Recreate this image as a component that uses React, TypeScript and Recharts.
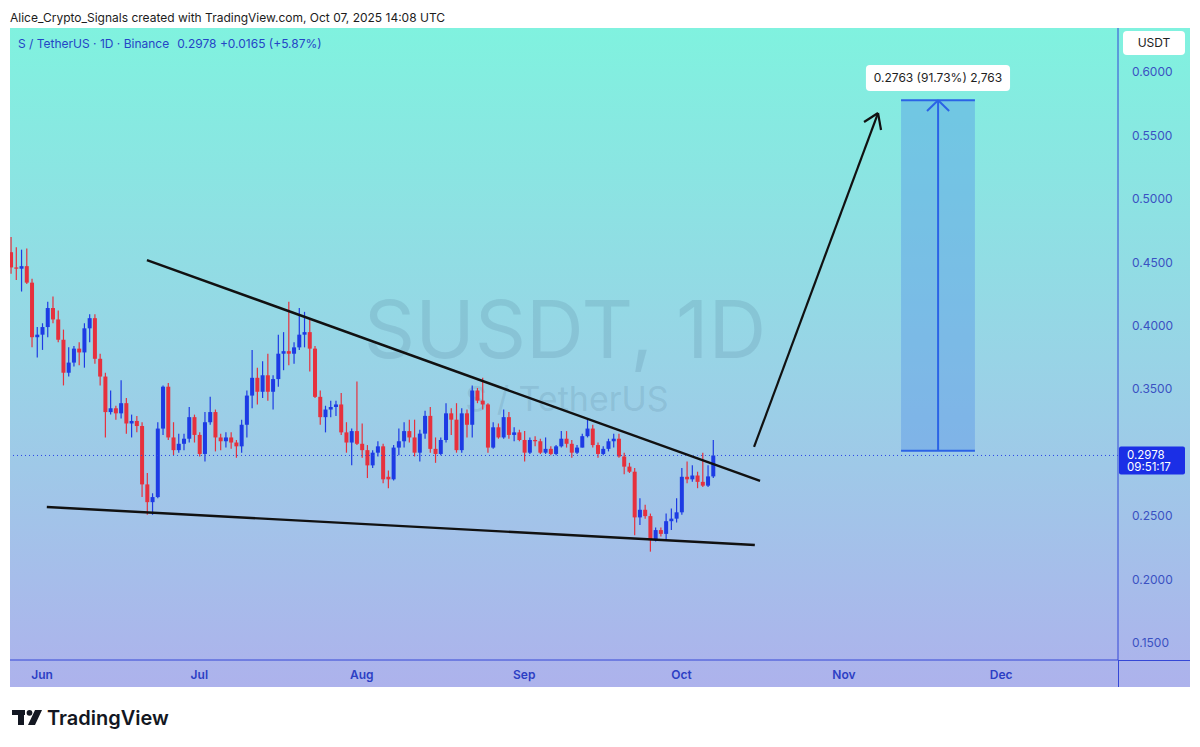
import React from 'react';
import { ComposedChart, Bar, XAxis, YAxis, ReferenceLine, ReferenceArea } from 'recharts';

// ---- data (daily candles, S / TetherUS, from 2025-05-26) ----
const startDate = '2025-05-26';
const opens = [
  0.458, 0.446, 0.445, 0.447, 0.434, 0.391, 0.393, 0.399, 0.414, 0.405,
  0.389, 0.363, 0.371, 0.382, 0.379, 0.398, 0.406, 0.374, 0.360, 0.332,
  0.335, 0.331, 0.339, 0.323, 0.325, 0.321, 0.275, 0.261, 0.265, 0.319,
  0.352, 0.312, 0.302, 0.307, 0.311, 0.328, 0.314, 0.299, 0.324, 0.332,
  0.312, 0.309, 0.312, 0.308, 0.305, 0.322, 0.345, 0.359, 0.348, 0.361,
  0.348, 0.358, 0.378, 0.380, 0.378, 0.383, 0.393, 0.395, 0.382, 0.344,
  0.328, 0.334, 0.336, 0.338, 0.316, 0.308, 0.317, 0.307, 0.302, 0.290,
  0.300, 0.305, 0.281, 0.279, 0.304, 0.309, 0.317, 0.312, 0.300, 0.315,
  0.329, 0.303, 0.299, 0.310, 0.331, 0.326, 0.302, 0.331, 0.322, 0.349,
  0.341, 0.338, 0.304, 0.320, 0.312, 0.328, 0.314, 0.316, 0.310, 0.300,
  0.310, 0.309, 0.300, 0.303, 0.299, 0.305, 0.311, 0.307, 0.300, 0.304,
  0.313, 0.319, 0.306, 0.299, 0.303, 0.309, 0.311, 0.297, 0.289, 0.285,
  0.249, 0.255, 0.250, 0.231, 0.239, 0.236, 0.246, 0.248, 0.253, 0.281,
  0.279, 0.282, 0.277, 0.274, 0.2813,
];
const highs = [
  0.470, 0.462, 0.460, 0.461, 0.437, 0.399, 0.402, 0.419, 0.423, 0.412,
  0.397, 0.383, 0.384, 0.387, 0.402, 0.409, 0.409, 0.378, 0.363, 0.349,
  0.337, 0.357, 0.343, 0.330, 0.329, 0.324, 0.284, 0.268, 0.324, 0.353,
  0.355, 0.324, 0.315, 0.315, 0.336, 0.330, 0.316, 0.332, 0.344, 0.334,
  0.315, 0.316, 0.316, 0.310, 0.326, 0.349, 0.381, 0.367, 0.372, 0.378,
  0.361, 0.393, 0.395, 0.419, 0.387, 0.414, 0.411, 0.405, 0.384, 0.349,
  0.337, 0.341, 0.341, 0.347, 0.324, 0.319, 0.356, 0.323, 0.306, 0.302,
  0.309, 0.307, 0.286, 0.306, 0.319, 0.324, 0.326, 0.326, 0.318, 0.333,
  0.336, 0.312, 0.312, 0.339, 0.335, 0.339, 0.335, 0.334, 0.353, 0.351,
  0.359, 0.339, 0.324, 0.323, 0.334, 0.332, 0.320, 0.318, 0.317, 0.312,
  0.313, 0.311, 0.312, 0.305, 0.306, 0.317, 0.317, 0.310, 0.306, 0.315,
  0.327, 0.322, 0.308, 0.305, 0.311, 0.315, 0.315, 0.300, 0.292, 0.288,
  0.264, 0.259, 0.252, 0.241, 0.241, 0.252, 0.256, 0.264, 0.288, 0.293,
  0.290, 0.285, 0.300, 0.290, 0.310,
];
const lows = [
  0.441, 0.436, 0.427, 0.433, 0.383, 0.375, 0.381, 0.391, 0.402, 0.387,
  0.353, 0.360, 0.368, 0.369, 0.367, 0.387, 0.370, 0.353, 0.312, 0.330,
  0.326, 0.327, 0.315, 0.312, 0.316, 0.265, 0.251, 0.251, 0.264, 0.314,
  0.310, 0.298, 0.300, 0.302, 0.308, 0.308, 0.297, 0.293, 0.322, 0.301,
  0.302, 0.304, 0.303, 0.296, 0.300, 0.312, 0.335, 0.338, 0.343, 0.341,
  0.334, 0.352, 0.365, 0.369, 0.370, 0.381, 0.383, 0.364, 0.343, 0.322,
  0.316, 0.328, 0.329, 0.314, 0.300, 0.290, 0.306, 0.296, 0.280, 0.288,
  0.297, 0.276, 0.272, 0.278, 0.298, 0.304, 0.308, 0.297, 0.293, 0.311,
  0.300, 0.292, 0.298, 0.308, 0.314, 0.300, 0.300, 0.312, 0.312, 0.339,
  0.334, 0.300, 0.303, 0.311, 0.311, 0.311, 0.309, 0.309, 0.293, 0.299,
  0.305, 0.299, 0.299, 0.298, 0.298, 0.304, 0.304, 0.296, 0.299, 0.304,
  0.312, 0.304, 0.296, 0.298, 0.301, 0.304, 0.296, 0.283, 0.284, 0.235,
  0.243, 0.248, 0.222, 0.230, 0.234, 0.232, 0.239, 0.245, 0.251, 0.276,
  0.277, 0.272, 0.273, 0.273, 0.280,
];
const closes = [
  0.446, 0.445, 0.447, 0.434, 0.391, 0.393, 0.399, 0.414, 0.405, 0.389,
  0.363, 0.371, 0.382, 0.379, 0.398, 0.406, 0.374, 0.360, 0.332, 0.335,
  0.331, 0.339, 0.323, 0.325, 0.321, 0.275, 0.261, 0.265, 0.319, 0.352,
  0.312, 0.302, 0.307, 0.311, 0.328, 0.314, 0.299, 0.324, 0.332, 0.312,
  0.309, 0.312, 0.308, 0.305, 0.322, 0.345, 0.359, 0.348, 0.361, 0.348,
  0.358, 0.378, 0.380, 0.378, 0.383, 0.393, 0.395, 0.382, 0.344, 0.328,
  0.334, 0.336, 0.338, 0.316, 0.308, 0.317, 0.307, 0.302, 0.290, 0.300,
  0.305, 0.279, 0.279, 0.304, 0.309, 0.317, 0.312, 0.300, 0.315, 0.329,
  0.303, 0.299, 0.310, 0.331, 0.326, 0.302, 0.331, 0.322, 0.349, 0.341,
  0.338, 0.304, 0.320, 0.312, 0.328, 0.314, 0.316, 0.310, 0.300, 0.310,
  0.309, 0.300, 0.303, 0.299, 0.305, 0.311, 0.307, 0.300, 0.304, 0.313,
  0.319, 0.306, 0.299, 0.303, 0.309, 0.311, 0.297, 0.289, 0.285, 0.249,
  0.255, 0.250, 0.231, 0.239, 0.236, 0.246, 0.248, 0.253, 0.281, 0.279,
  0.282, 0.277, 0.274, 0.2813, 0.2978,
];

const monthTicks = [6, 36, 67, 98, 128, 159, 189];
const monthLabels = ['Jun', 'Jul', 'Aug', 'Sep', 'Oct', 'Nov', 'Dec'];
// 0.3000 is hidden behind the last-price tag in the reference
const priceTicks = [0.15, 0.2, 0.25, 0.35, 0.4, 0.45, 0.5, 0.55, 0.6];
const lastPrice = 0.2978;
const clockText = '09:51:17';
const headerText = 'Alice_Crypto_Signals created with TradingView.com, Oct 07, 2025 14:08 UTC';
const legendText = 'S / TetherUS · 1D · Binance';
const legendValues = '0.2978  +0.0165 (+5.87%)';
const targetLabel = '0.2763 (91.73%) 2,763';
const watermarkMain = 'SUSDT, 1D';
const watermarkSub = 'S / TetherUS';

// annotation drawings in (day index, price)
const upperTrend = [{ x: 26.0, y: 0.4518 }, { x: 143.0, y: 0.2777 }];
const lowerTrend = [{ x: 6.9, y: 0.2572 }, { x: 142.0, y: 0.2272 }];
const arrowShaft = [{ x: 141.85, y: 0.3045 }, { x: 165.51, y: 0.5677 }];
const arrowWingA = [{ x: 162.84, y: 0.5606 }, { x: 165.51, y: 0.5677 }];
const arrowWingB = [{ x: 166.08, y: 0.5543 }, { x: 165.51, y: 0.5677 }];
const targetBox = { x1: 169.9, x2: 184.0, y1: 0.3015, y2: 0.5778, mid: 176.97 };
const targetWingA = [{ x: 174.86, y: 0.5693 }, { x: 176.97, y: 0.5778 }];
const targetWingB = [{ x: 179.08, y: 0.5693 }, { x: 176.97, y: 0.5778 }];
const labelBox = { x1: 163.2, x2: 190.7, y1: 0.585, y2: 0.6055 };

const UP = '#1d3be4';
const DOWN = '#e6313d';
const AXIS = '#3547d6';
const FONT = 'Inter, "Noto Sans", Roboto, sans-serif';

const rows = opens.map((o, i) => ({
  i,
  date: new Date(Date.parse(startDate) + i * 86400000).toISOString().slice(0, 10),
  open: o,
  high: highs[i],
  low: lows[i],
  close: closes[i],
  range: [lows[i], highs[i]],
}));

const Candle = (props: any) => {
  const { x, y, width, height, payload } = props;
  if (!payload || x == null) return null;
  const { open, high, low, close } = payload;
  const top = Math.min(y, y + height);
  const h = Math.abs(height);
  const k = h / (high - low);
  const py = (v: number) => top + (high - v) * k;
  const color = close >= open ? UP : DOWN;
  const cx = x + width / 2;
  const bTop = py(Math.max(open, close));
  const bBot = py(Math.min(open, close));
  return (
    <g>
      <line x1={cx} x2={cx} y1={top} y2={top + h} stroke={color} strokeWidth={1.2} />
      <rect x={x} y={bTop} width={width} height={Math.max(1.2, bBot - bTop)} fill={color} />
    </g>
  );
};

const PriceTag = (props: any) => {
  const vb = props.viewBox || {};
  const x = (vb.x || 0) + (vb.width || 0) + 1;
  const y = vb.y || 0;
  return (
    <g>
      <rect x={x} y={y - 9} width={66} height={28} rx={2} fill="#1b2fe6" />
      <text fill="#fff" fontSize={11.5} fontFamily={FONT}>
        <tspan x={x + 8} y={y + 3.5}>{lastPrice.toFixed(4)}</tspan>
        <tspan x={x + 8} y={y + 16}>{clockText}</tspan>
      </text>
    </g>
  );
};

const LabelShape = (props: any) => {
  const { x, y, width, height } = props;
  return (
    <g>
      <rect x={x} y={y} width={width} height={height} rx={4} fill="#ffffff" />
      <text x={x + width / 2} y={y + height / 2 + 4} textAnchor="middle" fontSize={12} fill="#1e1e1e" fontFamily={FONT}>
        {targetLabel}
      </text>
    </g>
  );
};

export default function App() {
  return (
    <div style={{ position: 'absolute', left: 0, top: 0, width: 1200, height: 747, background: '#fff', fontFamily: FONT, overflow: 'hidden' }}>
      <svg width={1200} height={747} style={{ position: 'absolute', left: 0, top: 0 }}>
        <defs>
          <linearGradient id="bgGrad" x1="0" y1="0" x2="0" y2="1">
            <stop offset="0" stopColor="#80f2df" />
            <stop offset="0.5" stopColor="#98d4e6" />
            <stop offset="1" stopColor="#adb2ec" />
          </linearGradient>
        </defs>
        <rect x={0} y={0} width={1200} height={747} fill="#ffffff" />
        <text x={10} y={22} fontSize={12} fill="#1c1c1c" fontFamily={FONT}>{headerText}</text>
        <rect x={10} y={28} width={1180} height={659} fill="url(#bgGrad)" />
        <text x={565} y={358} textAnchor="middle" fontSize={80} fill="#56809c" fillOpacity={0.21} fontFamily={FONT}>{watermarkMain}</text>
        <text x={567} y={411} textAnchor="middle" fontSize={34} fill="#56809c" fillOpacity={0.21} fontFamily={FONT}>{watermarkSub}</text>
      </svg>

      <div style={{ position: 'absolute', left: 10, top: 28 }}>
        <ComposedChart width={1180} height={659} data={rows} margin={{ top: 0, right: 0, bottom: 0, left: 0 }}>
          <XAxis
            dataKey="i"
            type="number"
            domain={[-0.13, 211.3]}
            allowDataOverflow
            ticks={monthTicks}
            interval={0}
            tickFormatter={(v: number) => monthLabels[monthTicks.indexOf(v)] || ''}
            axisLine={{ stroke: AXIS, strokeWidth: 1 }}
            tickLine={false}
            tickMargin={4}
            tick={{ fill: '#2c3fc4', fontSize: 12, fontFamily: FONT, fontWeight: 600 }}
            height={27}
          />
          <YAxis
            orientation="right"
            type="number"
            domain={[0.1366, 0.6347]}
            allowDataOverflow
            ticks={priceTicks}
            interval={0}
            tickFormatter={(v: number) => v.toFixed(4)}
            axisLine={{ stroke: AXIS, strokeWidth: 1 }}
            tickLine={false}
            tickMargin={8}
            tick={{ fill: '#3a51c2', fontSize: 12, fontFamily: FONT }}
            width={72}
          />
          <ReferenceArea x1={targetBox.x1} x2={targetBox.x2} y1={targetBox.y1} y2={targetBox.y2} fill="#4e8fe8" fillOpacity={0.38} stroke="none" />
          <ReferenceLine segment={[{ x: targetBox.x1, y: targetBox.y2 }, { x: targetBox.x2, y: targetBox.y2 }]} stroke="#2b63e6" strokeWidth={2} />
          <ReferenceLine segment={[{ x: targetBox.x1, y: targetBox.y1 }, { x: targetBox.x2, y: targetBox.y1 }]} stroke="#2b63e6" strokeWidth={2} />
          <ReferenceLine segment={[{ x: targetBox.mid, y: targetBox.y1 }, { x: targetBox.mid, y: targetBox.y2 }]} stroke="#2b63e6" strokeWidth={2} />
          <ReferenceLine segment={targetWingA} stroke="#2b63e6" strokeWidth={2} />
          <ReferenceLine segment={targetWingB} stroke="#2b63e6" strokeWidth={2} />
          <ReferenceArea x1={labelBox.x1} x2={labelBox.x2} y1={labelBox.y1} y2={labelBox.y2} shape={LabelShape} />
          <ReferenceLine y={lastPrice} stroke="#2a45e6" strokeDasharray="1 3" strokeWidth={1} label={PriceTag} />
          <Bar dataKey="range" barSize={4} shape={Candle} isAnimationActive={false} />
          <ReferenceLine segment={upperTrend} stroke="#111" strokeWidth={2.4} />
          <ReferenceLine segment={lowerTrend} stroke="#111" strokeWidth={2.4} />
          <ReferenceLine segment={arrowShaft} stroke="#111" strokeWidth={2.2} />
          <ReferenceLine segment={arrowWingA} stroke="#111" strokeWidth={2.2} />
          <ReferenceLine segment={arrowWingB} stroke="#111" strokeWidth={2.2} />
        </ComposedChart>
      </div>

      <svg width={1200} height={747} style={{ position: 'absolute', left: 0, top: 0, pointerEvents: 'none' }}>
        <text x={18} y={48} fontSize={12} fill="#2445c6" fontFamily={FONT}>
          {legendText}
          <tspan dx={8}>{legendValues}</tspan>
        </text>
        <rect x={1123} y={31} width={62} height={24} rx={4} fill="#ffffff" />
        <text x={1154} y={47} textAnchor="middle" fontSize={12} fill="#222" fontFamily={FONT}>USDT</text>
        <line x1={1118.5} y1={660} x2={1118.5} y2={687} stroke={AXIS} strokeWidth={1} />
        <line x1={1118} y1={660.5} x2={1190} y2={660.5} stroke={AXIS} strokeWidth={1} />
        <g fill="#131722">
          <rect x={12} y={710} width={13} height={5} />
          <rect x={18} y={710} width={6} height={15} />
          <circle cx={29.5} cy={712.8} r={2.9} />
          <polygon points="35,710 42,710 35,725 28,725" />
        </g>
        <text x={47} y={725} fontSize={20} fontWeight={600} fill="#131722" fontFamily={FONT}>TradingView</text>
      </svg>
    </div>
  );
}
